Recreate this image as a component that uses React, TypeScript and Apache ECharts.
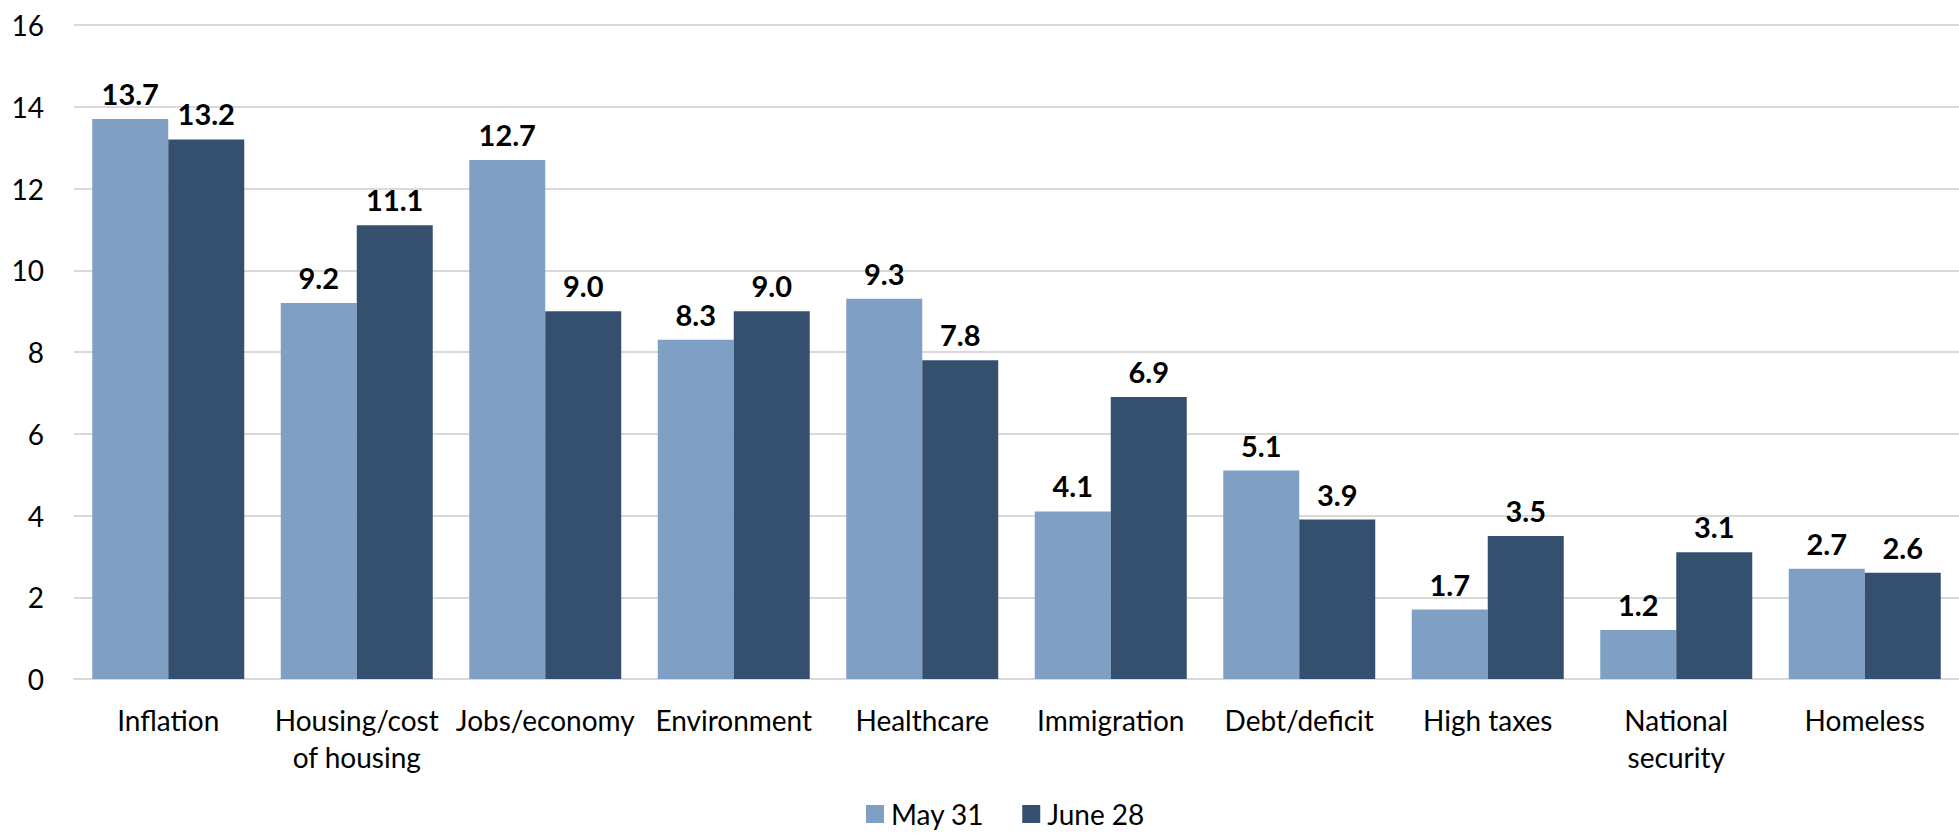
import React, { useEffect, useRef } from "react";
import * as echarts from "echarts";

const categories = [
  "Inflation",
  "Housing/cost\nof housing",
  "Jobs/economy",
  "Environment",
  "Healthcare",
  "Immigration",
  "Debt/deficit",
  "High taxes",
  "National\nsecurity",
  "Homeless",
];
const may31 = [13.7, 9.2, 12.7, 8.3, 9.3, 4.1, 5.1, 1.7, 1.2, 2.7];
const june28 = [13.2, 11.1, 9.0, 9.0, 7.8, 6.9, 3.9, 3.5, 3.1, 2.6];
const seriesNames = ["May 31", "June 28"];
const yTicks = { min: 0, max: 16, interval: 2 };

const FONT = "Lato, 'Noto Sans', sans-serif";
const LIGHT = "#7f9fc4";
const DARK = "#34506e";

export default function App() {
  const ref = useRef<HTMLDivElement>(null);
  useEffect(() => {
    if (!ref.current) return;
    const chart = echarts.init(ref.current, null, { renderer: "svg" });
    const label = {
      show: true,
      position: "top" as const,
      distance: 11,
      fontFamily: FONT,
      fontSize: 29,
      fontWeight: "bold" as const,
      color: "#000",
      formatter: (p: any) => Number(p.value).toFixed(1),
    };
    chart.setOption({
      animation: false,
      textStyle: { fontFamily: FONT },
      grid: { left: 74, top: 25, width: 1900, height: 654, containLabel: false },
      legend: {
        left: 866,
        top: 799,
        padding: 0,
        itemWidth: 18,
        itemHeight: 18,
        itemGap: 38,
        icon: "rect",
        textStyle: { fontFamily: FONT, fontSize: 28, lineHeight: 30, color: "#000", padding: [0, 0, 0, 2] },
        data: seriesNames,
      },
      xAxis: {
        type: "category",
        data: categories,
        axisTick: { show: false },
        axisLine: { lineStyle: { color: "#d9d9d9", width: 2 } },
        axisLabel: {
          interval: 0,
          margin: 22,
          fontFamily: FONT,
          fontSize: 28,
          lineHeight: 37,
          color: "#000",
        },
      },
      yAxis: {
        type: "value",
        min: yTicks.min,
        max: yTicks.max,
        interval: yTicks.interval,
        axisLine: { show: false },
        axisTick: { show: false },
        splitLine: { lineStyle: { color: "#d9d9d9", width: 2 } },
        axisLabel: { margin: 30, fontFamily: FONT, fontSize: 28, color: "#000" },
      },
      series: [
        {
          name: seriesNames[0],
          type: "bar",
          data: may31,
          barWidth: 76,
          barGap: "0%",
          itemStyle: { color: LIGHT },
          label,
        },
        {
          name: seriesNames[1],
          type: "bar",
          data: june28,
          barWidth: 76,
          barGap: "0%",
          itemStyle: { color: DARK },
          label,
        },
      ],
    });
    return () => chart.dispose();
  }, []);
  return (
    <div
      ref={ref}
      style={{ position: "fixed", left: 0, top: 0, width: 1959, height: 835, background: "#fff" }}
    />
  );
}
